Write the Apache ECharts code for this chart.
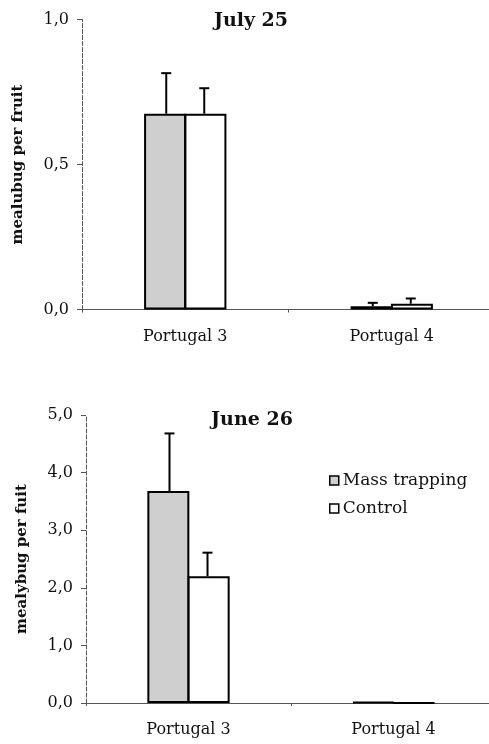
<!DOCTYPE html>
<html><head><meta charset="utf-8">
<script src="https://cdn.jsdelivr.net/npm/echarts@6/dist/echarts.min.js"></script>
<style>html,body{margin:0;padding:0;background:#fff}#c{width:489px;height:744px}</style>
</head><body><div id="c"></div>
<script>
const categories = ['Portugal 3', 'Portugal 4'];
const seriesNames = ['Mass trapping', 'Control'];
// July 25 panel
const julyMass = [0.675, 0.011];
const julyMassErr = [0.14, 0.012];
const julyControl = [0.675, 0.02];
const julyControlErr = [0.088, 0.018];
// June 26 panel
const juneMass = [3.68, 0.02];
const juneMassErr = [1.0, 0];
const juneControl = [2.2, 0.004];
const juneControlErr = [0.41, 0];
const julyTicks = [0, 0.5, 1.0];
const juneTicks = [0, 1, 2, 3, 4, 5];

const FONT = 'DejaVu Serif';
const BAR_W = 42;
const fmt = v => v.toFixed(1).replace('.', ',');

function errSeries(name, gridIdx, vals, errs, side) {
  return {
    type: 'custom', name: name, xAxisIndex: gridIdx, yAxisIndex: gridIdx, z: 5,
    data: vals.map((v, i) => [i, v, v + errs[i]]),
    renderItem: function (params, api) {
      if (api.value(2) - api.value(1) <= 0) return null;
      const p0 = api.coord([api.value(0), api.value(1)]);
      const p1 = api.coord([api.value(0), api.value(2)]);
      const x = p0[0] + side * BAR_W / 2 - side * 2;
      const st = { stroke: '#000', lineWidth: 2 };
      return { type: 'group', children: [
        { type: 'line', shape: { x1: x, y1: p0[1], x2: x, y2: p1[1] }, style: st },
        { type: 'line', shape: { x1: x - 5, y1: p1[1], x2: x + 5, y2: p1[1] }, style: st }
      ]};
    }
  };
}

function barSeries(name, gridIdx, vals, color) {
  return {
    type: 'bar', name: name, xAxisIndex: gridIdx, yAxisIndex: gridIdx,
    data: vals, barWidth: BAR_W, barGap: '-4%',
    itemStyle: { color: color, borderColor: '#000', borderWidth: 2 }
  };
}

function xAxis(gridIdx) {
  return {
    type: 'category', gridIndex: gridIdx, data: categories,
    axisLine: { lineStyle: { color: '#555', width: 1 } },
    axisTick: { show: true, length: 3, lineStyle: { color: '#555' } },
    axisLabel: { color: '#111', fontFamily: FONT, fontSize: 16, margin: 19 }
  };
}
function yAxis(gridIdx, max, interval, name) {
  return {
    type: 'value', gridIndex: gridIdx, min: 0, max: max, interval: interval,
    name: name, nameLocation: 'middle', nameGap: 56,
    nameTextStyle: { fontFamily: FONT, fontWeight: 'bold', fontSize: 15, color: '#111' },
    axisLine: { show: true, lineStyle: { color: '#555', width: 1, type: 'dashed' } },
    axisTick: { show: true, length: 5, lineStyle: { color: '#555' } },
    splitLine: { show: false },
    axisLabel: { color: '#111', fontFamily: FONT, fontSize: 16, margin: 13, formatter: fmt }
  };
}

const chart = echarts.init(document.getElementById('c'), null, { renderer: 'canvas' });
chart.setOption({
  animation: false,
  backgroundColor: '#fff',
  title: [
    { text: 'July 25', left: 246, top: 7, textAlign: 'center',
      textStyle: { fontFamily: FONT, fontWeight: 'bold', fontSize: 19, color: '#111' } },
    { text: 'June 26', left: 247, top: 406, textAlign: 'center',
      textStyle: { fontFamily: FONT, fontWeight: 'bold', fontSize: 19, color: '#111' } }
  ],
  legend: {
    data: seriesNames, orient: 'vertical', left: 324, top: 467, itemGap: 11,
    icon: 'rect', itemWidth: 9, itemHeight: 9,
    textStyle: { fontFamily: FONT, fontSize: 17, color: '#111', padding: [0, 0, 0, -1] },
    itemStyle: { borderColor: '#000', borderWidth: 1.5 },
    selectedMode: false
  },
  grid: [
    { left: 82, top: 19.5, height: 290, width: 413, outerBoundsMode: 'none', containLabel: false },
    { left: 86, top: 415, height: 288, width: 410, outerBoundsMode: 'none', containLabel: false }
  ],
  xAxis: [xAxis(0), xAxis(1)],
  yAxis: [yAxis(0, 1.0, 0.5, 'mealubug per fruit'), yAxis(1, 5, 1, 'mealybug per fuit')],
  series: [
    barSeries(seriesNames[0], 0, julyMass, '#cfcfcf'),
    barSeries(seriesNames[1], 0, julyControl, '#ffffff'),
    errSeries(seriesNames[0], 0, julyMass, julyMassErr, -1),
    errSeries(seriesNames[1], 0, julyControl, julyControlErr, 1),
    barSeries(seriesNames[0], 1, juneMass, '#cfcfcf'),
    barSeries(seriesNames[1], 1, juneControl, '#ffffff'),
    errSeries(seriesNames[0], 1, juneMass, juneMassErr, -1),
    errSeries(seriesNames[1], 1, juneControl, juneControlErr, 1)
  ]
});
</script></body></html>
